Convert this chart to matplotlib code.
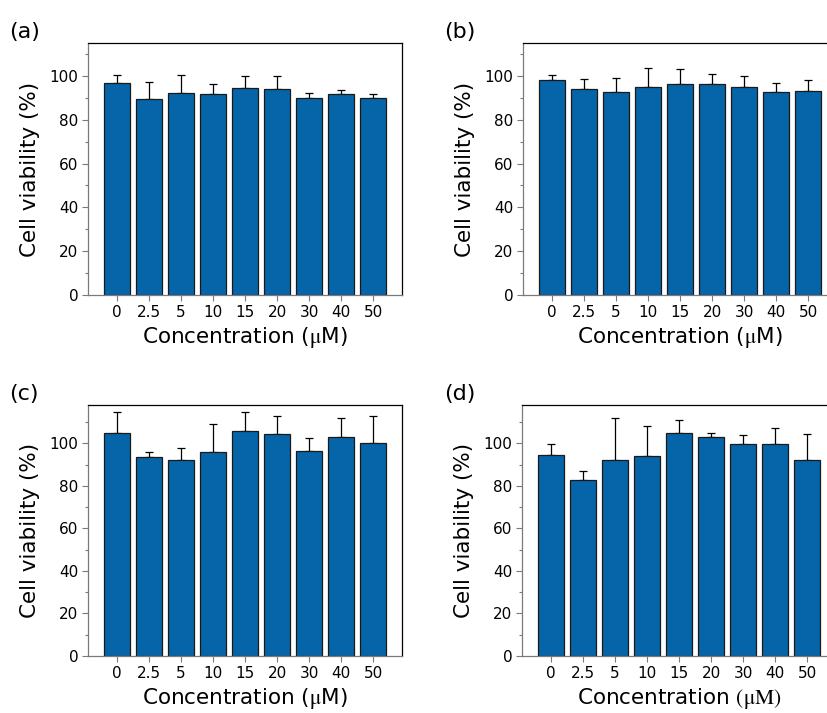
import matplotlib
matplotlib.use("Agg")
import matplotlib.pyplot as plt
from matplotlib.ticker import MultipleLocator
import numpy as np

plt.rcParams["font.family"] = ["DejaVu Sans"]
plt.rcParams["mathtext.fontset"] = "stix"

# === Data ===
concentrations = ["0", "2.5", "5", "10", "15", "20", "30", "40", "50"]

viability_a = [96.7, 89.5, 92.4, 91.9, 94.4, 93.9, 90.0, 91.5, 90.0]
error_a = [3.8, 7.6, 8.1, 4.4, 5.6, 6.1, 2.1, 2.0, 1.6]

viability_b = [97.9, 94.2, 92.8, 95.1, 96.2, 96.2, 95.1, 92.8, 93.3]
error_b = [2.6, 4.3, 6.1, 8.6, 6.8, 4.6, 4.7, 3.9, 4.7]

viability_c = [104.9, 93.5, 92.1, 96.1, 105.7, 104.4, 96.5, 102.8, 100.0]
error_c = [9.7, 2.6, 5.5, 13.0, 8.9, 8.4, 5.9, 9.2, 12.8]

viability_d = [94.5, 82.7, 92.1, 94.0, 104.9, 102.8, 99.5, 99.5, 92.1]
error_d = [5.0, 4.5, 20.0, 14.2, 6.1, 1.9, 4.3, 7.6, 12.3]

panels = [
    ("(a)", viability_a, error_a, 115, r"Concentration ($\mathrm{\mu}$M)"),
    ("(b)", viability_b, error_b, 115, r"Concentration ($\mathrm{\mu}$M)"),
    ("(c)", viability_c, error_c, 118, r"Concentration ($\mathrm{\mu}$M)"),
    ("(d)", viability_d, error_d, 118, r"Concentration $(\mathrm{\mu M})$"),
]

W, H = 827, 713
# axes boxes in pixels: left, top, width, height
boxes = [(88, 43, 314, 252), (523, 43, 314, 252),
         (88, 405, 314, 251), (522, 405, 314, 251)]
label_pos = [(9, 38), (444, 38), (9, 400), (444, 400)]

bar_color = "#0565A8"
gray = "#7a7a7a"

fig = plt.figure(figsize=(W / 100, H / 100), dpi=100)

for (tag, vals, errs, ymax, xlab), (l, t, w, h), (lx, ly) in zip(panels, boxes, label_pos):
    ax = fig.add_axes([l / W, 1 - (t + h) / H, w / W, h / H])
    x = np.arange(len(concentrations))
    ax.bar(x, vals, width=0.8, color=bar_color, edgecolor="#1a1a1a", linewidth=0.9, zorder=2)
    ax.errorbar(x, vals, yerr=[np.zeros(len(errs)), errs], fmt="none",
                ecolor="black", elinewidth=0.9, capsize=3, capthick=0.9, zorder=1)
    ax.set_xlim(-0.9, 8.9)
    ax.set_ylim(0, ymax)
    ax.set_xticks(x)
    ax.set_xticklabels(concentrations)
    ax.yaxis.set_major_locator(MultipleLocator(20))
    ax.yaxis.set_minor_locator(MultipleLocator(10))
    ax.tick_params(axis="both", which="major", labelsize=11, length=4,
                   width=0.8, color=gray, direction="out", pad=3)
    ax.tick_params(axis="y", which="minor", length=2.5, width=0.8, color=gray)
    for side in ("left", "bottom"):
        ax.spines[side].set_color(gray)
    for side in ("top", "right"):
        ax.spines[side].set_color("black")
    for sp in ax.spines.values():
        sp.set_linewidth(0.9)
    ax.set_ylabel("Cell viability (%)", fontsize=15.5, labelpad=7)
    ax.set_xlabel(xlab, fontsize=15.5, labelpad=4)
    fig.text(lx / W, 1 - ly / H, tag, fontsize=16)

fig.savefig("out.png", dpi=100)
